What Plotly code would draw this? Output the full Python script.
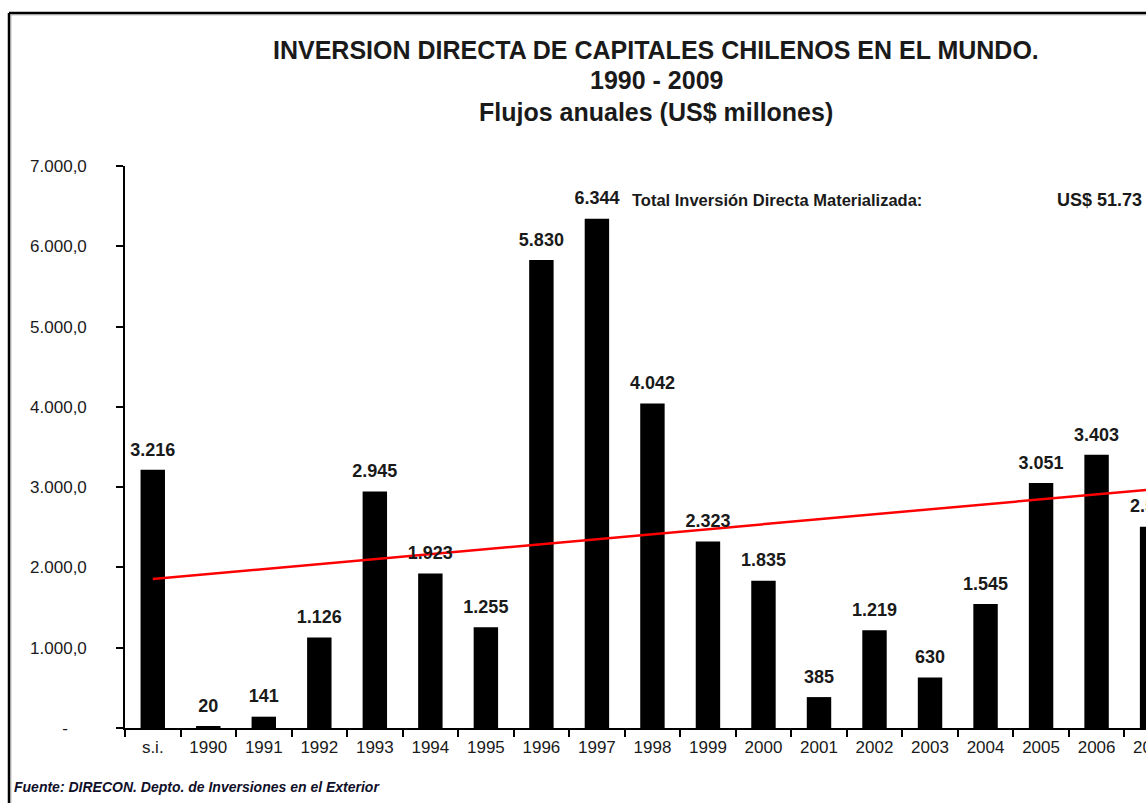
import plotly.graph_objects as go

categories = ["s.i.", "1990", "1991", "1992", "1993", "1994", "1995", "1996", "1997",
              "1998", "1999", "2000", "2001", "2002", "2003", "2004", "2005", "2006", "2007"]
values = [3216, 20, 141, 1126, 2945, 1923, 1255, 5830, 6344,
          4042, 2323, 1835, 385, 1219, 630, 1545, 3051, 3403, 2507]
labels = ["3.216", "20", "141", "1.126", "2.945", "1.923", "1.255", "5.830", "6.344",
          "4.042", "2.323", "1.835", "385", "1.219", "630", "1.545", "3.051", "3.403", "2.507"]

trend_x = ["s.i.", "2007"]
trend_y = [1856, 2972]

y_tickvals = [0, 1000, 2000, 3000, 4000, 5000, 6000, 7000]
y_ticktext = ["-" + "\u00a0" * 4, "1.000,0", "2.000,0", "3.000,0", "4.000,0",
              "5.000,0", "6.000,0", "7.000,0"]

title_lines = ["INVERSION DIRECTA DE CAPITALES CHILENOS EN EL MUNDO.",
               "1990 - 2009",
               "Flujos anuales (US$ millones)"]
total_label = "Total Inversión Directa Materializada:"
total_value = "US$ 51.73"
source_text = "Fuente: DIRECON. Depto. de Inversiones en el Exterior"

FONT = "Liberation Sans, Arial, sans-serif"
TXT = "#1a1a1a"

X_RANGE = [-0.5, 17.89]

def cat_domain(i):
    # position of category index i in x-axis domain units (linear category scale)
    return (i - X_RANGE[0]) / (X_RANGE[1] - X_RANGE[0])

in_range = [i for i in range(len(categories)) if i <= X_RANGE[1]]
out_range = [i for i in range(len(categories)) if i > X_RANGE[1]]

fig = go.Figure()
fig.add_trace(go.Bar(x=categories, y=values, marker=dict(color="black", line=dict(width=0)),
                     hoverinfo="x+y"))
fig.add_trace(go.Scatter(x=trend_x, y=trend_y, mode="lines",
                         line=dict(color="#ff0000", width=2.5), hoverinfo="skip"))
fig.add_trace(go.Scatter(x=[categories[i] for i in in_range],
                         y=[values[i] for i in in_range], mode="markers+text",
                         text=[f"<b>{labels[i]}</b>" for i in in_range],
                         textposition="top center",
                         marker=dict(size=14, color="rgba(0,0,0,0)"),
                         textfont=dict(family=FONT, size=18, color=TXT),
                         cliponaxis=False, hoverinfo="skip"))

L, T, B = 125, 166, 75
W, H = 1146, 803
pw = W - L
ph = H - T - B

def px(xp):
    return (xp - L) / pw

def py(yp):
    return (H - B - yp) / ph

annotations = []
# categories lying past the visible edge: value label and tick label (cut by the page edge)
for i in out_range:
    annotations.append(dict(x=cat_domain(i), y=values[i], xref="x domain", yref="y",
                            text=f"<b>{labels[i]}</b>", showarrow=False,
                            xanchor="center", yanchor="bottom", yshift=9,
                            font=dict(family=FONT, size=18, color=TXT)))
    annotations.append(dict(x=cat_domain(i), y=0, xref="x domain", yref="paper",
                            text=categories[i], showarrow=False,
                            xanchor="center", yanchor="top", yshift=-8,
                            font=dict(family=FONT, size=17, color=TXT)))

title_y = [50, 80, 112]
for t, yp in zip(title_lines, title_y):
    annotations.append(dict(x=px(656), y=py(yp), xref="paper", yref="paper",
                            text=f"<b>{t}</b>", showarrow=False,
                            xanchor="center", yanchor="middle",
                            font=dict(family=FONT, size=25, color=TXT)))

annotations.append(dict(x=px(630), y=py(200), xref="paper", yref="paper",
                        text=f"<b>{total_label}</b>", showarrow=False,
                        xanchor="left", yanchor="middle",
                        font=dict(family=FONT, size=16.5, color=TXT)))
annotations.append(dict(x=px(1055), y=py(200), xref="paper", yref="paper",
                        text=f"<b>{total_value}</b>", showarrow=False,
                        xanchor="left", yanchor="middle",
                        font=dict(family=FONT, size=18, color=TXT)))
annotations.append(dict(x=px(12), y=py(787), xref="paper", yref="paper",
                        text=f"<b><i>{source_text}</i></b>", showarrow=False,
                        xanchor="left", yanchor="middle",
                        font=dict(family=FONT, size=14, color="#10102a")))

shapes = [
    dict(type="line", xref="paper", yref="paper", x0=px(9), x1=px(1200),
         y0=py(13), y1=py(13), line=dict(color="black", width=2.5)),
    dict(type="line", xref="paper", yref="paper", x0=px(9), x1=px(9),
         y0=py(13), y1=py(850), line=dict(color="black", width=2.5)),
    dict(type="line", xref="paper", yref="paper", x0=px(10.8), x1=px(1200),
         y0=py(14.8), y1=py(14.8), line=dict(color="#999999", width=1)),
    dict(type="line", xref="paper", yref="paper", x0=px(10.8), x1=px(10.8),
         y0=py(14.8), y1=py(850), line=dict(color="#999999", width=1)),
]

fig.update_layout(
    width=W, height=H,
    margin=dict(l=L, r=0, t=T, b=B, pad=0),
    paper_bgcolor="white", plot_bgcolor="white",
    showlegend=False,
    bargap=0.56,
    annotations=annotations,
    shapes=shapes,
    font=dict(family=FONT, color=TXT),
)
fig.update_xaxes(type="category", categoryorder="array", categoryarray=categories,
                 range=X_RANGE, showgrid=False, zeroline=False,
                 showline=True, linecolor="black", linewidth=1.5,
                 ticks="outside", tickson="boundaries", ticklen=7, tickwidth=1.5,
                 tickcolor="black", tickfont=dict(family=FONT, size=17, color=TXT),
                 ticklabelstandoff=3, fixedrange=True)
fig.update_yaxes(range=[0, 7000], showgrid=False, zeroline=False,
                 showline=True, linecolor="black", linewidth=1.5,
                 ticks="outside", ticklen=7, tickwidth=1.5, tickcolor="black",
                 tickvals=y_tickvals, ticktext=y_ticktext,
                 ticklabelstandoff=26,
                 tickfont=dict(family=FONT, size=17, color=TXT), fixedrange=True)

fig.write_html("out.html")
